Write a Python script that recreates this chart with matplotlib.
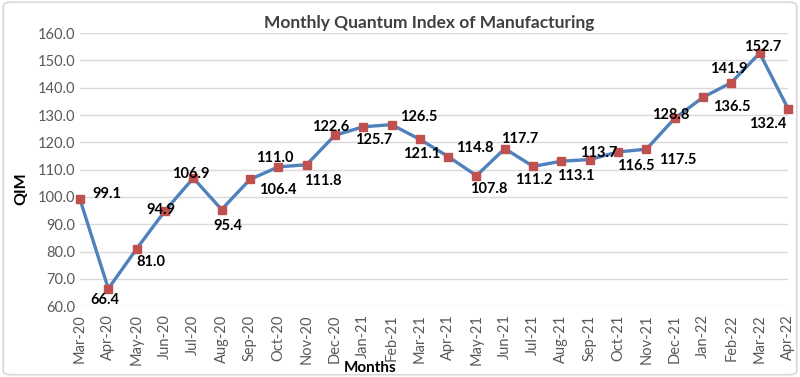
import matplotlib
matplotlib.use("Agg")
import matplotlib.pyplot as plt
from matplotlib.patches import FancyBboxPatch

# データ
months = ["Mar-20", "Apr-20", "May-20", "Jun-20", "Jul-20", "Aug-20", "Sep-20",
          "Oct-20", "Nov-20", "Dec-20", "Jan-21", "Feb-21", "Mar-21", "Apr-21",
          "May-21", "Jun-21", "Jul-21", "Aug-21", "Sep-21", "Oct-21", "Nov-21",
          "Dec-21", "Jan-22", "Feb-22", "Mar-22", "Apr-22"]
qim = [99.1, 66.4, 81.0, 94.9, 106.9, 95.4, 106.4, 111.0, 111.8, 122.6, 125.7,
       126.5, 121.1, 114.8, 107.8, 117.7, 111.2, 113.1, 113.7, 116.5, 117.5,
       128.8, 136.5, 141.9, 152.7, 132.4]
yticks = [60, 70, 80, 90, 100, 110, 120, 130, 140, 150, 160]

# ラベルの位置 (pixel offset)
label_offsets = [(27, -5), (-3, 11), (14, 13), (-4, -1), (-3, -4), (6, 16),
                 (28, 11), (-3, -9), (16, 16), (-4, -8), (10, 13), (27, -8),
                 (2, 15), (27, -9), (12, 13), (15, -10), (1, 14), (14, 15),
                 (9, -7), (18, 14), (31, 11), (-4, -3), (29, 10), (-3, -14),
                 (3, -6), (-20, 15)]

plt.rcParams["font.family"] = ["Lato", "DejaVu Sans"]

fig = plt.figure(figsize=(8, 3.77), dpi=100)
ax = fig.add_axes([0.1, 0.188, 0.885, 0.724])

x = list(range(len(months)))
ax.plot(x, qim, color="#4F81BD", linewidth=2.4, marker="s",
        markersize=6, markerfacecolor="#C0504D", markeredgecolor="#C0504D",
        zorder=3, clip_on=False)

for i, v in enumerate(qim):
    dx, dy = label_offsets[i]
    ax.annotate(f"{v:.1f}", (i, v), xytext=(dx, -dy), textcoords="offset pixels",
                ha="center", va="center", fontsize=10.5, fontweight="bold",
                color="black", zorder=4)

ax.set_xlim(0, len(months) - 1)
ax.set_ylim(60, 160)
ax.set_yticks(yticks)
ax.set_yticklabels([f"{t:.1f}" for t in yticks])
ax.set_xticks(x)
ax.set_xticklabels(months, rotation=90)
ax.tick_params(axis="both", length=0, colors="#595959", labelsize=10.5)
ax.tick_params(axis="x", pad=6)
ax.grid(axis="y", color="#D9D9D9", linewidth=1)
ax.set_axisbelow(True)
for s in ax.spines.values():
    s.set_visible(False)

fig.text(0.537, 0.94, "Monthly Quantum Index of Manufacturing", ha="center",
         va="center", fontsize=12.5, fontweight="bold", color="#404040")
fig.text(0.027, 0.5, "QIM", rotation=90, ha="center", va="center",
         fontsize=11.5, fontweight="bold", color="black")
fig.text(0.463, 0.025, "Months", ha="center", va="center",
         fontsize=11, fontweight="bold", color="black")

# 外枠
border = FancyBboxPatch((0.004, 0.006), 0.992, 0.988, boxstyle="round,pad=0,rounding_size=0.01",
                        transform=fig.transFigure, facecolor="none",
                        edgecolor="#D9D9D9", linewidth=1.2)
fig.patches.append(border)

fig.savefig("out.png", dpi=100)
plt.close()
